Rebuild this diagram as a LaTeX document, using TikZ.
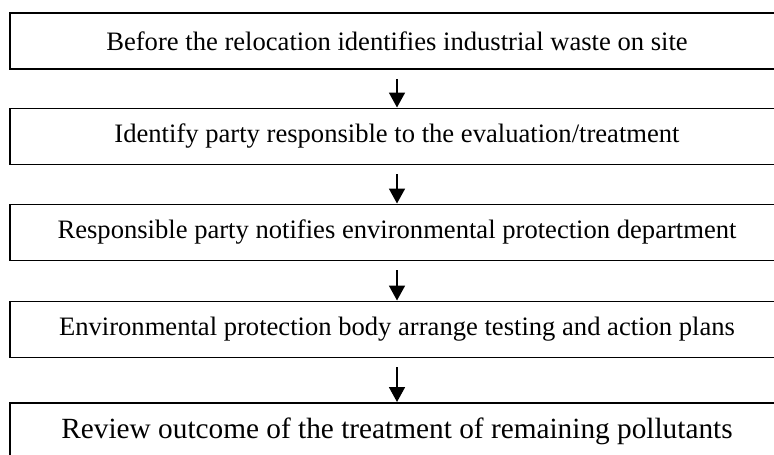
\documentclass[tikz,border=0pt]{standalone}
\usepackage{fontspec}
\setmainfont{Liberation Serif}
\usetikzlibrary{arrows.meta}
\begin{document}
\begin{tikzpicture}[x=1pt,y=-1pt,
  stepbox/.style={draw, line width=1.8pt, rectangle, minimum width=774pt, minimum height=56pt, inner sep=0pt, anchor=north, font=\fontsize{26.6}{30}\selectfont},
  bigbox/.style={stepbox, font=\fontsize{29.3}{33}\selectfont},
  flow/.style={line width=1.8pt, shorten <=9pt, -{Triangle[width=16pt,length=15pt]}}]
\useasboundingbox (0,0) rectangle (774,455);
\clip (0,0) rectangle (774,455);
\node[stepbox] (b1) at (397,12) {Before the relocation identifies industrial waste on site};
\node[stepbox] (b2) at (397,107.5) {Identify party responsible to the evaluation/treatment};
\node[stepbox] (b3) at (397,203.5) {Responsible party notifies environmental protection department};
\node[stepbox] (b4) at (397,300.5) {Environmental protection body arrange testing and action plans};
\node[bigbox] (b5) at (397,402) {Review outcome of the treatment of remaining pollutants};
\draw[flow] (b1.south) -- (b2.north);
\draw[flow] (b2.south) -- (b3.north);
\draw[flow] (b3.south) -- (b4.north);
\draw[flow] (b4.south) -- (b5.north);
\end{tikzpicture}
\end{document}
